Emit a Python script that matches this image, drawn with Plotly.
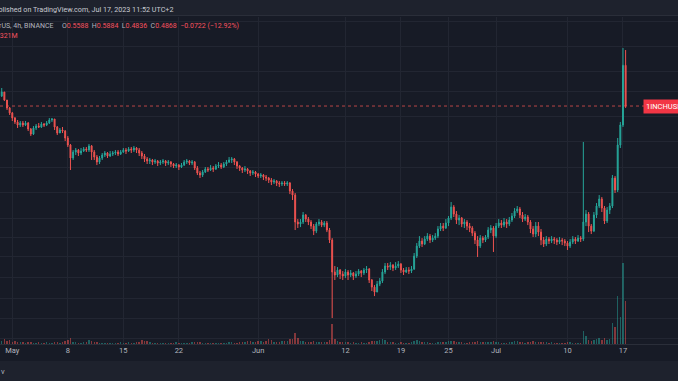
import numpy as np
import pandas as pd
import plotly.graph_objects as go

# ---------------- data (8h candles, 1INCH/USDT) ----------------
first_open = 0.5036
close = [
    0.5105, 0.4968, 0.4835, 0.4755, 0.4675, 0.4612, 0.4565, 0.4596, 0.4565, 0.4596,
    0.4503, 0.4428, 0.4519, 0.4549, 0.4534, 0.4580, 0.4565, 0.4596, 0.4643, 0.4659,
    0.4534, 0.4443, 0.4488, 0.4473, 0.4368, 0.4266, 0.4082, 0.4166, 0.4194, 0.4152,
    0.4180, 0.4209, 0.4194, 0.4252, 0.4166, 0.4096, 0.4027, 0.4082, 0.4124, 0.4152,
    0.4110, 0.4138, 0.4152, 0.4166, 0.4138, 0.4166, 0.4194, 0.4180, 0.4209, 0.4194,
    0.4223, 0.4194, 0.4152, 0.4110, 0.4069, 0.4041, 0.4055, 0.4027, 0.4041, 0.4014,
    0.4027, 0.4041, 0.4014, 0.4027, 0.4000, 0.3973, 0.3986, 0.3960, 0.3986, 0.4027,
    0.4041, 0.4014, 0.4027, 0.3946, 0.3880, 0.3854, 0.3893, 0.3933, 0.3920, 0.3946,
    0.3933, 0.3973, 0.3986, 0.3960, 0.4000, 0.4027, 0.4055, 0.4069, 0.4027, 0.3973,
    0.3946, 0.3920, 0.3933, 0.3907, 0.3880, 0.3893, 0.3867, 0.3841, 0.3854, 0.3828,
    0.3815, 0.3789, 0.3763, 0.3776, 0.3751, 0.3738, 0.3751, 0.3738, 0.3751, 0.3650,
    0.3601, 0.3287, 0.3265, 0.3287, 0.3366, 0.3320, 0.3287, 0.3242, 0.3188, 0.3265,
    0.3287, 0.3253, 0.3276, 0.3199, 0.3093, 0.2775, 0.2747, 0.2794, 0.2756, 0.2738,
    0.2775, 0.2747, 0.2766, 0.2738, 0.2756, 0.2784, 0.2766, 0.2794, 0.2803, 0.2701,
    0.2637, 0.2593, 0.2664, 0.2692, 0.2775, 0.2832, 0.2822, 0.2841, 0.2813, 0.2832,
    0.2851, 0.2794, 0.2775, 0.2794, 0.2784, 0.2803, 0.2929, 0.3030, 0.3082, 0.3051,
    0.3103, 0.3134, 0.3093, 0.3113, 0.3134, 0.3210, 0.3242, 0.3221, 0.3276, 0.3332,
    0.3458, 0.3377, 0.3309, 0.3332, 0.3265, 0.3287, 0.3242, 0.3221, 0.3166, 0.3093,
    0.3030, 0.3113, 0.3093, 0.3124, 0.3199, 0.3221, 0.3134, 0.3242, 0.3276, 0.3253,
    0.3287, 0.3265, 0.3309, 0.3354, 0.3411, 0.3435, 0.3366, 0.3320, 0.3343, 0.3287,
    0.3210, 0.3156, 0.3242, 0.3177, 0.3093, 0.3051, 0.3103, 0.3082, 0.3103, 0.3093,
    0.3072, 0.3093, 0.3082, 0.3061, 0.3030, 0.3072, 0.3103, 0.3082, 0.3113, 0.3103,
    0.3287, 0.3377, 0.3242, 0.3188, 0.3366, 0.3470, 0.3553, 0.3446, 0.3298, 0.3423,
    0.3470, 0.3815, 0.3663, 0.4266, 0.4565, 0.5588, 0.4868,
]
high = [
    0.5174, 0.5105, 0.4968, 0.4852, 0.4771, 0.4690, 0.4643, 0.4627, 0.4627, 0.4627,
    0.4612, 0.4519, 0.4549, 0.4580, 0.4596, 0.4612, 0.4596, 0.4627, 0.4675, 0.4675,
    0.4659, 0.4549, 0.4519, 0.4534, 0.4488, 0.4398, 0.4281, 0.4194, 0.4223, 0.4209,
    0.4223, 0.4237, 0.4237, 0.4281, 0.4266, 0.4194, 0.4124, 0.4110, 0.4152, 0.4180,
    0.4166, 0.4180, 0.4180, 0.4194, 0.4194, 0.4194, 0.4223, 0.4223, 0.4237, 0.4237,
    0.4252, 0.4237, 0.4223, 0.4180, 0.4138, 0.4096, 0.4082, 0.4069, 0.4069, 0.4055,
    0.4055, 0.4069, 0.4055, 0.4055, 0.4041, 0.4014, 0.4014, 0.4000, 0.4014, 0.4055,
    0.4069, 0.4055, 0.4055, 0.4041, 0.3973, 0.3907, 0.3920, 0.3960, 0.3960, 0.3986,
    0.3973, 0.4000, 0.4027, 0.4014, 0.4027, 0.4055, 0.4096, 0.4096, 0.4082, 0.4041,
    0.3986, 0.3960, 0.3973, 0.3946, 0.3920, 0.3920, 0.3907, 0.3880, 0.3880, 0.3867,
    0.3854, 0.3828, 0.3815, 0.3802, 0.3789, 0.3776, 0.3776, 0.3776, 0.3776, 0.3763,
    0.3675, 0.3626, 0.3320, 0.3320, 0.3400, 0.3377, 0.3343, 0.3309, 0.3265, 0.3287,
    0.3320, 0.3309, 0.3298, 0.3298, 0.3221, 0.3113, 0.2832, 0.2822, 0.2803, 0.2784,
    0.2803, 0.2794, 0.2794, 0.2775, 0.2784, 0.2803, 0.2794, 0.2813, 0.2832, 0.2813,
    0.2710, 0.2655, 0.2692, 0.2719, 0.2803, 0.2861, 0.2861, 0.2870, 0.2851, 0.2870,
    0.2880, 0.2861, 0.2813, 0.2822, 0.2822, 0.2832, 0.2960, 0.3061, 0.3134, 0.3113,
    0.3134, 0.3166, 0.3156, 0.3145, 0.3166, 0.3242, 0.3276, 0.3276, 0.3320, 0.3354,
    0.3517, 0.3481, 0.3411, 0.3366, 0.3343, 0.3320, 0.3309, 0.3276, 0.3242, 0.3188,
    0.3134, 0.3145, 0.3134, 0.3145, 0.3231, 0.3253, 0.3242, 0.3276, 0.3320, 0.3309,
    0.3332, 0.3320, 0.3343, 0.3389, 0.3446, 0.3470, 0.3458, 0.3400, 0.3377, 0.3366,
    0.3309, 0.3242, 0.3287, 0.3287, 0.3210, 0.3124, 0.3134, 0.3124, 0.3134, 0.3124,
    0.3113, 0.3124, 0.3113, 0.3103, 0.3082, 0.3103, 0.3134, 0.3124, 0.3145, 0.3134,
    0.4310, 0.3423, 0.3400, 0.3265, 0.3400, 0.3505, 0.3601, 0.3577, 0.3470, 0.3458,
    0.3505, 0.3854, 0.3841, 0.4368, 0.4612, 0.5924, 0.5884,
]
low = [
    0.5019, 0.4951, 0.4803, 0.4722, 0.4627, 0.4580, 0.4519, 0.4534, 0.4534, 0.4549,
    0.4473, 0.4398, 0.4413, 0.4488, 0.4519, 0.4519, 0.4534, 0.4549, 0.4580, 0.4612,
    0.4488, 0.4413, 0.4443, 0.4443, 0.4324, 0.4237, 0.3920, 0.4055, 0.4124, 0.4110,
    0.4124, 0.4166, 0.4166, 0.4166, 0.4055, 0.4055, 0.3986, 0.4000, 0.4055, 0.4096,
    0.4082, 0.4096, 0.4110, 0.4124, 0.4110, 0.4124, 0.4152, 0.4138, 0.4166, 0.4152,
    0.4166, 0.4152, 0.4110, 0.4069, 0.4027, 0.4000, 0.4000, 0.3986, 0.4000, 0.3973,
    0.3986, 0.4000, 0.3973, 0.3986, 0.3960, 0.3946, 0.3946, 0.3920, 0.3946, 0.3973,
    0.4000, 0.3986, 0.3986, 0.3920, 0.3854, 0.3815, 0.3828, 0.3880, 0.3893, 0.3907,
    0.3893, 0.3920, 0.3946, 0.3933, 0.3946, 0.3973, 0.4014, 0.4014, 0.3986, 0.3933,
    0.3907, 0.3880, 0.3893, 0.3867, 0.3841, 0.3854, 0.3828, 0.3815, 0.3815, 0.3789,
    0.3776, 0.3751, 0.3725, 0.3738, 0.3713, 0.3700, 0.3713, 0.3713, 0.3713, 0.3613,
    0.3541, 0.3199, 0.3221, 0.3231, 0.3265, 0.3287, 0.3253, 0.3210, 0.3145, 0.3166,
    0.3242, 0.3231, 0.3231, 0.3177, 0.3061, 0.2375, 0.2701, 0.2728, 0.2710, 0.2701,
    0.2719, 0.2701, 0.2728, 0.2701, 0.2719, 0.2738, 0.2728, 0.2747, 0.2766, 0.2674,
    0.2602, 0.2558, 0.2593, 0.2646, 0.2674, 0.2756, 0.2794, 0.2794, 0.2784, 0.2794,
    0.2813, 0.2766, 0.2747, 0.2766, 0.2756, 0.2766, 0.2794, 0.2910, 0.3010, 0.3020,
    0.3040, 0.3082, 0.3061, 0.3072, 0.3093, 0.3113, 0.3188, 0.3188, 0.3210, 0.3242,
    0.3309, 0.3343, 0.3265, 0.3253, 0.3231, 0.3221, 0.3199, 0.3177, 0.3134, 0.3051,
    0.2920, 0.3010, 0.3061, 0.3072, 0.3103, 0.3166, 0.2970, 0.3113, 0.3221, 0.3221,
    0.3231, 0.3221, 0.3242, 0.3287, 0.3332, 0.3389, 0.3332, 0.3287, 0.3298, 0.3253,
    0.3166, 0.3124, 0.3124, 0.3134, 0.3040, 0.3020, 0.3030, 0.3051, 0.3061, 0.3051,
    0.3040, 0.3051, 0.3040, 0.3030, 0.2990, 0.3010, 0.3051, 0.3051, 0.3072, 0.3072,
    0.3082, 0.3242, 0.3177, 0.3156, 0.3177, 0.3332, 0.3446, 0.3400, 0.3265, 0.3276,
    0.3377, 0.3446, 0.3626, 0.3638, 0.4223, 0.4534, 0.4836,
]
volume_m = [
    0.9, 1.3, 0.8, 1.1, 0.6, 0.9, 0.5, 0.4, 0.5, 0.3,
    0.4, 0.5, 0.3, 0.3, 0.4, 0.3, 0.3, 0.4, 0.3, 0.3,
    0.5, 0.5, 0.3, 0.4, 0.8, 1.1, 1.6, 0.6, 0.4, 0.3,
    0.3, 0.4, 0.5, 1.1, 0.7, 0.5, 0.4, 0.3, 0.3, 0.3,
    0.3, 0.3, 0.2, 0.3, 0.3, 0.4, 0.3, 0.3, 0.4, 0.3,
    0.3, 0.4, 0.6, 1.1, 0.7, 0.8, 0.4, 0.3, 0.3, 0.3,
    0.3, 0.2, 0.3, 0.3, 0.2, 0.3, 0.4, 0.3, 0.3, 0.3,
    0.3, 0.3, 0.4, 0.5, 0.6, 0.4, 0.3, 0.3, 0.2, 0.3,
    0.3, 0.3, 0.2, 0.3, 0.3, 0.3, 0.4, 0.4, 0.3, 0.3,
    0.4, 0.5, 0.6, 0.8, 0.7, 0.5, 0.6, 0.9, 0.8, 0.6,
    0.7, 1.4, 1.0, 0.6, 0.5, 0.6, 0.8, 0.9, 0.7, 1.2,
    1.4, 2.9, 1.6, 0.8, 0.9, 0.6, 0.6, 0.5, 0.8, 0.6,
    0.5, 0.5, 0.4, 0.6, 1.0, 5.3, 1.2, 0.7, 0.6, 0.5,
    0.4, 0.4, 0.3, 0.4, 0.3, 0.3, 0.4, 0.3, 0.3, 0.5,
    0.7, 0.8, 0.9, 1.0, 1.3, 1.1, 0.6, 0.4, 0.4, 0.3,
    0.3, 0.4, 0.3, 0.3, 0.3, 0.4, 0.9, 1.0, 0.7, 0.5,
    0.4, 0.4, 0.3, 0.3, 0.3, 0.5, 0.5, 0.4, 0.6, 0.7,
    0.9, 0.7, 0.5, 0.4, 0.4, 0.3, 0.3, 0.4, 0.5, 0.6,
    0.8, 0.6, 0.4, 0.4, 0.5, 0.4, 0.8, 0.6, 0.4, 0.3,
    0.3, 0.3, 0.4, 0.5, 0.7, 0.8, 0.6, 0.4, 0.3, 0.4,
    0.6, 0.7, 0.5, 0.4, 0.6, 0.5, 0.4, 0.3, 0.5, 0.3,
    0.3, 0.3, 0.3, 0.3, 0.5, 0.4, 0.3, 0.3, 0.3, 0.3,
    3.4, 2.1, 1.0, 0.8, 1.1, 1.3, 1.6, 1.0, 1.6, 1.1,
    1.2, 5.5, 4.5, 12.6, 7.0, 21.3, 11.3,
]
tick_dates = ["2023-05-01", "2023-05-08", "2023-05-15", "2023-05-22", "2023-06-01",
              "2023-06-12", "2023-06-19", "2023-06-25", "2023-07-01", "2023-07-10",
              "2023-07-17", "2023-07-24"]
tick_text = ["May", "8", "15", "22", "Jun", "12", "19", "25", "Jul", "10", "17", "24"]
grid_prices = [0.647, 0.5945, 0.548, 0.5105, 0.4706, 0.431, 0.396, 0.3638,
               0.3332, 0.3124, 0.2929, 0.2728, 0.2541, 0.2375, 0.2219]

# legend texts as shown on the chart
header_text = "Published on TradingView.com, Jul 17, 2023 11:52 UTC+2"
symbol_text = "1INCH / TetherUS, 4h, BINANCE"
change_text = "−0.0722 (−12.92%)"
volume_text = "11.321M"
price_label = "1INCHUSDT"

times = pd.date_range("2023-04-29 16:00", periods=len(close), freq="8h")
opens = [first_open] + close[:-1]
last_close = close[-1]

# ---------------- style ----------------
BG = "#171b26"
BAR_BG = "#1e222d"
GRID = "#222632"
UP = "#26a69a"
DN = "#ef5350"
TXT = "#b2b5be"
RED_TXT = "#f7525f"
FONT = "Roboto"

W, H = 678, 381
TOP, BOT = 17, 344
PH = BOT - TOP


def py(Y):
    return (BOT - Y) / PH


def px(X):
    return X / W


vol_colors = ["rgba(38,166,154,0.5)" if c >= o else "rgba(239,83,80,0.5)"
              for o, c in zip(opens, close)]

x_start = pd.Timestamp("2023-04-29 10:46")
x_end = pd.Timestamp("2023-07-23 22:30")

fig = go.Figure()
fig.add_trace(go.Bar(
    x=times, y=volume_m, marker=dict(color=vol_colors, line=dict(width=0)),
    width=8 * 3600 * 1000 * 0.55, yaxis="y2", hoverinfo="skip", showlegend=False,
))
fig.add_trace(go.Candlestick(
    x=times, open=opens, high=high, low=low, close=close,
    increasing=dict(line=dict(color=UP, width=1), fillcolor=UP),
    decreasing=dict(line=dict(color=DN, width=1), fillcolor=DN),
    whiskerwidth=0, showlegend=False, hoverinfo="skip",
))
fig.add_trace(go.Scatter(
    x=[x_start, x_end], y=[last_close, last_close], mode="lines",
    line=dict(color="rgba(239,83,80,0.75)", width=1, dash="dot"),
    hoverinfo="skip", showlegend=False,
))

shapes = [
    dict(type="rect", xref="paper", yref="paper", x0=0, x1=1, y0=py(16), y1=py(-2),
         fillcolor=BAR_BG, line=dict(width=0), layer="above"),
    dict(type="line", xref="paper", yref="paper", x0=0, x1=1, y0=py(15.5), y1=py(15.5),
         line=dict(color="#2a2e39", width=1), layer="above"),
    dict(type="line", xref="paper", yref="paper", x0=0, x1=1, y0=py(344.5), y1=py(344.5),
         line=dict(color="#2a2e39", width=1), layer="above"),
    dict(type="rect", xref="paper", yref="paper", x0=0, x1=1, y0=py(383), y1=py(361),
         fillcolor=BAR_BG, line=dict(width=0), layer="above"),
]

ohlc_txt = (
    f"O<span style='color:{RED_TXT}'>{opens[-1]:.4f}</span>  "
    f"H<span style='color:{RED_TXT}'>{high[-1]:.4f}</span>  "
    f"L<span style='color:{RED_TXT}'>{low[-1]:.4f}</span>  "
    f"C<span style='color:{RED_TXT}'>{close[-1]:.4f}</span>  "
    f"<span style='color:{RED_TXT}'>{change_text}</span>"
)

annotations = [
    dict(text=header_text,
         xref="paper", yref="paper", x=px(-12.5), y=py(9), xanchor="left", yanchor="middle",
         showarrow=False, font=dict(family=FONT, size=7.2, color="#c8cbd2")),
    dict(text=symbol_text, xref="paper", yref="paper",
         x=px(55.5), y=py(25.5), xanchor="right", yanchor="middle", showarrow=False,
         font=dict(family=FONT, size=7, color=TXT)),
    dict(text=ohlc_txt, xref="paper", yref="paper",
         x=px(60), y=py(25.5), xanchor="left", yanchor="middle", showarrow=False,
         font=dict(family=FONT, size=7, color=TXT)),
    dict(text=volume_text, xref="paper", yref="paper",
         x=px(20), y=py(36), xanchor="right", yanchor="middle", showarrow=False,
         font=dict(family=FONT, size=7, color=RED_TXT)),
    dict(text=price_label, xref="paper", yref="y", x=px(643),
         y=float(np.log10(last_close)), xanchor="left", yanchor="middle", showarrow=False,
         bgcolor="#f23645", borderpad=2,
         font=dict(family=FONT, size=7.5, color="#ffffff")),
    dict(text="v", xref="paper", yref="paper", x=px(-1), y=py(371.5),
         xanchor="left", yanchor="middle", showarrow=False,
         font=dict(family=FONT, size=7.5, color=TXT)),
]

fig.update_layout(
    width=W, height=H,
    margin=dict(l=0, r=0, t=TOP, b=H - BOT, pad=0),
    paper_bgcolor=BG, plot_bgcolor=BG,
    showlegend=False, bargap=0, boxgap=0.5,
    xaxis=dict(
        type="date", range=[x_start, x_end], rangeslider=dict(visible=False),
        tickmode="array", tickvals=tick_dates, ticktext=tick_text,
        showgrid=True, gridcolor=GRID, gridwidth=1, zeroline=False, showline=False,
        ticks="", tickfont=dict(family=FONT, size=7.5, color=TXT),
        fixedrange=True,
    ),
    yaxis=dict(
        type="log", range=[np.log10(0.2175), np.log10(0.6580)],
        tickmode="array", tickvals=grid_prices, showticklabels=False,
        showgrid=True, gridcolor=GRID, gridwidth=1, zeroline=False, showline=False,
        fixedrange=True,
    ),
    yaxis2=dict(
        overlaying="y", range=[0, 86], visible=False, fixedrange=True,
    ),
    shapes=shapes,
    annotations=annotations,
)

fig.write_html(
    "out.html",
    config={"displayModeBar": False, "staticPlot": True},
    post_script="document.body.style.margin='0';document.body.style.overflow='hidden';",
)
